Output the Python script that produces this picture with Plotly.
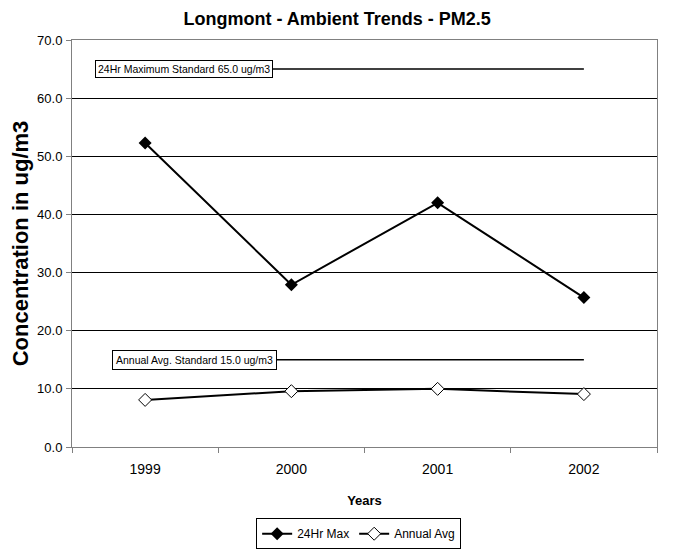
import plotly.graph_objects as go

years = ['1999', '2000', '2001', '2002']
max_24hr = [52.3, 27.9, 42.0, 25.7]
annual_avg = [8.1, 9.6, 10.0, 9.1]
std_24hr = 65.0
std_annual = 15.0

FONT = 'Liberation Sans Narrow, Arial Narrow, Liberation Sans, Arial'

fig = go.Figure()

# standard lines (boxes drawn on top as annotations)
fig.add_trace(go.Scatter(x=years, y=[std_24hr] * len(years), mode='lines',
                         line=dict(color='black', width=1.5), showlegend=False,
                         hoverinfo='skip'))
fig.add_trace(go.Scatter(x=years, y=[std_annual] * len(years), mode='lines',
                         line=dict(color='black', width=1.5), showlegend=False,
                         hoverinfo='skip'))

fig.add_trace(go.Scatter(x=years, y=max_24hr, name='24Hr Max', mode='lines+markers',
                         line=dict(color='black', width=2),
                         marker=dict(symbol='diamond', size=10, color='black')))
fig.add_trace(go.Scatter(x=years, y=annual_avg, name='Annual Avg', mode='lines+markers',
                         line=dict(color='black', width=2),
                         marker=dict(symbol='diamond', size=10, color='white',
                                     line=dict(color='black', width=1))))

fig.add_annotation(x=0.039, xref='paper', y=std_24hr, yref='y', xanchor='left',
                   text='24Hr Maximum Standard 65.0 ug/m3', showarrow=False,
                   bgcolor='white', bordercolor='black', borderwidth=1, borderpad=2,
                   font=dict(family=FONT, size=10.5, color='black'))
fig.add_annotation(x=0.068, xref='paper', y=std_annual, yref='y', xanchor='left',
                   text='Annual Avg. Standard 15.0 ug/m3', showarrow=False,
                   bgcolor='white', bordercolor='black', borderwidth=1, borderpad=3,
                   font=dict(family=FONT, size=10.5, color='black'))

# page body adds 8px, so the figure is sized 8px smaller and margins shifted
fig.update_layout(
    width=665, height=542,
    margin=dict(l=64, r=16, t=32, b=103, autoexpand=False),
    paper_bgcolor='white', plot_bgcolor='white',
    font=dict(family=FONT, size=12, color='black'),
    title=dict(text='<b>Longmont - Ambient Trends - PM2.5</b>', x=0.495, xanchor='center',
               y=0.991, yanchor='top', pad=dict(t=0, b=0), font=dict(size=18)),
    showlegend=True,
    legend=dict(orientation='h', x=0.49, xanchor='center', y=-0.175, yanchor='top',
                bordercolor='black', borderwidth=1, font=dict(size=12),
                itemwidth=30, tracegroupgap=0),
)

fig.update_xaxes(type='category', range=[-0.5, 3.5], tickson='boundaries',
                 ticks='outside', ticklen=5, tickcolor='gray', automargin=False,
                 showline=True, linecolor='gray', mirror=True, showgrid=False,
                 tickfont=dict(size=14), ticklabelstandoff=9,
                 title=dict(text='<b>Years</b>', font=dict(size=13), standoff=20))
fig.update_yaxes(range=[0, 70], dtick=10, tickformat='.1f', automargin=False,
                 ticks='outside', ticklen=5, tickcolor='gray',
                 showline=True, linecolor='gray', mirror=True,
                 showgrid=True, gridcolor='black', gridwidth=1, zeroline=False,
                 tickfont=dict(size=13), ticklabelstandoff=1,
                 title=dict(text='<b>Concentration in ug/m3</b>',
                            font=dict(family='Liberation Sans, Arial', size=22), standoff=2))

fig.write_html("out.html")
